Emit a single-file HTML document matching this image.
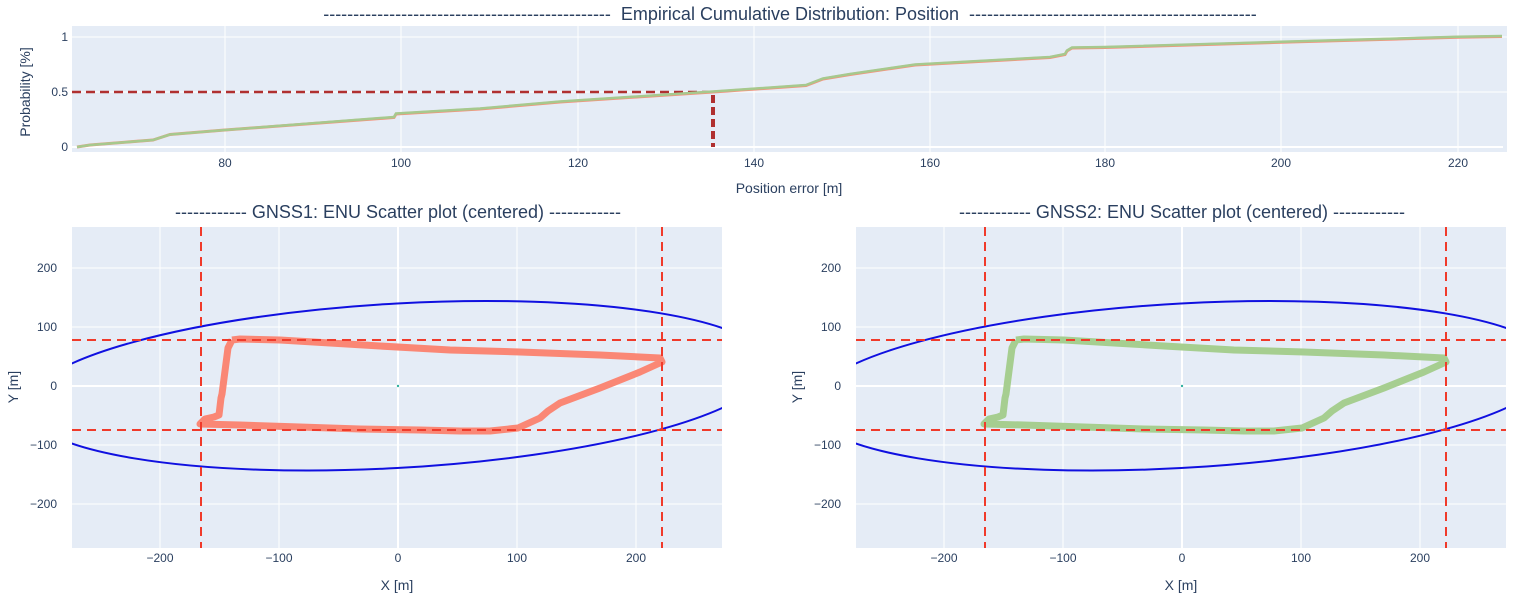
<!DOCTYPE html>
<html><head><meta charset="utf-8"><style>
body{margin:0;background:#fff;}
svg{display:block;font-family:"Liberation Sans",sans-serif;}
.t{fill:#2a3f5f;font-size:12px;}
.ti{fill:#2a3f5f;font-size:18px;}
.ax{fill:#2a3f5f;font-size:14px;}
</style></head><body>
<svg width="1517" height="602" viewBox="0 0 1517 602">
<defs>
<clipPath id="c1"><rect x="72" y="227" width="650" height="321"/></clipPath>
<clipPath id="c0"><rect x="72" y="26" width="1435" height="126"/></clipPath>
</defs>
<!-- top chart -->
<rect x="72" y="26" width="1435" height="126" fill="#e5ecf6"/>
<g stroke="#fff" stroke-width="1">
<line x1="225" y1="26" x2="225" y2="152"/><line x1="401" y1="26" x2="401" y2="152"/>
<line x1="578" y1="26" x2="578" y2="152"/><line x1="754" y1="26" x2="754" y2="152"/>
<line x1="930" y1="26" x2="930" y2="152"/><line x1="1105" y1="26" x2="1105" y2="152"/>
<line x1="1281" y1="26" x2="1281" y2="152"/><line x1="1458" y1="26" x2="1458" y2="152"/>
<line x1="72" y1="37" x2="1507" y2="37"/><line x1="72" y1="92" x2="1507" y2="92"/>
</g>
<line x1="72" y1="147" x2="1503" y2="147" stroke="#fff" stroke-width="2"/>
<g clip-path="url(#c0)">
<line x1="72" y1="92" x2="713" y2="92" stroke="#b03030" stroke-width="2.5" stroke-dasharray="9,5"/>
<line x1="713" y1="95" x2="713" y2="147" stroke="#b03030" stroke-width="4" stroke-dasharray="8,4"/>
<polyline fill="none" stroke="#f4937c" stroke-width="3" points="77,147 90,145 153,140 170,134.5 225,130 394,117.5 396,114 400,113.7 480,109 560,102 713,92 806,85.5 823,79 850,74.5 915,65 1050,57.5 1065,54.5 1067,51 1072,48 1105,47.5 1281,42.3 1458,37.3 1502,36.5"/>
<polyline fill="none" stroke="#a6c98e" stroke-width="2.5" points="77,147 90,145 153,140 170,134.5 225,130 394,117 396,113.5 400,113.2 480,108.5 560,101.5 713,91.5 806,85 823,78.5 850,74 915,64.5 1050,57 1065,54 1067,50.5 1072,47.5 1105,47 1281,41.8 1458,36.8 1502,36"/>
</g>
<g class="t" text-anchor="end"><text x="68" y="41">1</text><text x="68" y="96">0.5</text><text x="68" y="151">0</text></g>
<g class="t" text-anchor="middle"><text x="225" y="167">80</text><text x="401" y="167">100</text><text x="578" y="167">120</text><text x="754" y="167">140</text><text x="930" y="167">160</text><text x="1105" y="167">180</text><text x="1281" y="167">200</text><text x="1458" y="167">220</text></g>
<text class="ax" x="789" y="193" text-anchor="middle">Position error [m]</text>
<text class="ax" x="30" y="92" text-anchor="middle" transform="rotate(-90 30 92)">Probability [%]</text>
<text class="ti" x="790" y="20" text-anchor="middle" xml:space="preserve">------------------------------------------------  Empirical Cumulative Distribution: Position  ------------------------------------------------</text>

<!-- scatter plots -->
<g id="p1">
<rect x="72" y="227" width="650" height="321" fill="#e5ecf6"/>
<g stroke="#fff" stroke-width="1">
<line x1="160" y1="227" x2="160" y2="548"/><line x1="279" y1="227" x2="279" y2="548"/>
<line x1="517" y1="227" x2="517" y2="548"/><line x1="636" y1="227" x2="636" y2="548"/>
<line x1="72" y1="268" x2="722" y2="268"/><line x1="72" y1="327" x2="722" y2="327"/>
<line x1="72" y1="445" x2="722" y2="445"/><line x1="72" y1="504" x2="722" y2="504"/>
</g>
<line x1="398" y1="227" x2="398" y2="548" stroke="#fff" stroke-width="2"/>
<line x1="72" y1="386" x2="722" y2="386" stroke="#fff" stroke-width="2"/>
<g clip-path="url(#c1)">
<ellipse cx="0" cy="0" rx="372" ry="82.3" fill="none" stroke="#1010e0" stroke-width="2" transform="translate(397,385.75) skewY(-3.125)"/>
<polyline fill="none" stroke="#fa8775" stroke-width="7" stroke-linejoin="round" points="232,340 240,339 280,340 330,343 380,346 450,350 520,352 600,355 660,358 662,362 640,372 600,388 560,403 548,411 540,418 518,428 490,431 460,431 420,430 360,429 300,427 240,425 200,424 205,419 214,417 219,415 221,398 222,394 228,348 232,340"/>
<line x1="201" y1="227" x2="201" y2="548" stroke="#f03a2a" stroke-width="2" stroke-dasharray="9,6"/>
<line x1="662" y1="227" x2="662" y2="548" stroke="#f03a2a" stroke-width="2" stroke-dasharray="9,6"/>
<line x1="72" y1="340" x2="722" y2="340" stroke="#f03a2a" stroke-width="2" stroke-dasharray="9,6"/>
<line x1="72" y1="430" x2="722" y2="430" stroke="#f03a2a" stroke-width="2" stroke-dasharray="9,6"/>
<circle cx="398" cy="386" r="1.2" fill="#30b0a0"/>
</g>
<g class="t" text-anchor="end"><text x="57" y="272">200</text><text x="57" y="331">100</text><text x="57" y="390">0</text><text x="57" y="449">−100</text><text x="57" y="508">−200</text></g>
<g class="t" text-anchor="middle"><text x="160" y="562">−200</text><text x="279" y="562">−100</text><text x="398" y="562">0</text><text x="517" y="562">100</text><text x="636" y="562">200</text></g>
<text class="ax" x="397" y="590" text-anchor="middle">X [m]</text>
<text class="ax" x="18" y="387" text-anchor="middle" transform="rotate(-90 18 387)">Y [m]</text>
<text class="ti" x="398" y="218" text-anchor="middle">------------ GNSS1: ENU Scatter plot (centered) ------------</text>
</g>

<g transform="translate(784,0)">
<rect x="72" y="227" width="650" height="321" fill="#e5ecf6"/>
<g stroke="#fff" stroke-width="1">
<line x1="160" y1="227" x2="160" y2="548"/><line x1="279" y1="227" x2="279" y2="548"/>
<line x1="517" y1="227" x2="517" y2="548"/><line x1="636" y1="227" x2="636" y2="548"/>
<line x1="72" y1="268" x2="722" y2="268"/><line x1="72" y1="327" x2="722" y2="327"/>
<line x1="72" y1="445" x2="722" y2="445"/><line x1="72" y1="504" x2="722" y2="504"/>
</g>
<line x1="398" y1="227" x2="398" y2="548" stroke="#fff" stroke-width="2"/>
<line x1="72" y1="386" x2="722" y2="386" stroke="#fff" stroke-width="2"/>
<g clip-path="url(#c1)">
<ellipse cx="0" cy="0" rx="372" ry="82.3" fill="none" stroke="#1010e0" stroke-width="2" transform="translate(397,385.75) skewY(-3.125)"/>
<polyline fill="none" stroke="#a6ce90" stroke-width="7" stroke-linejoin="round" points="232,340 240,339 280,340 330,343 380,346 450,350 520,352 600,355 660,358 662,362 640,372 600,388 560,403 548,411 540,418 518,428 490,431 460,431 420,430 360,429 300,427 240,425 200,424 205,419 214,417 219,415 221,398 222,394 228,348 232,340"/>
<line x1="201" y1="227" x2="201" y2="548" stroke="#f03a2a" stroke-width="2" stroke-dasharray="9,6"/>
<line x1="662" y1="227" x2="662" y2="548" stroke="#f03a2a" stroke-width="2" stroke-dasharray="9,6"/>
<line x1="72" y1="340" x2="722" y2="340" stroke="#f03a2a" stroke-width="2" stroke-dasharray="9,6"/>
<line x1="72" y1="430" x2="722" y2="430" stroke="#f03a2a" stroke-width="2" stroke-dasharray="9,6"/>
<circle cx="398" cy="386" r="1.2" fill="#30b0a0"/>
</g>
<g class="t" text-anchor="end"><text x="57" y="272">200</text><text x="57" y="331">100</text><text x="57" y="390">0</text><text x="57" y="449">−100</text><text x="57" y="508">−200</text></g>
<g class="t" text-anchor="middle"><text x="160" y="562">−200</text><text x="279" y="562">−100</text><text x="398" y="562">0</text><text x="517" y="562">100</text><text x="636" y="562">200</text></g>
<text class="ax" x="397" y="590" text-anchor="middle">X [m]</text>
<text class="ax" x="18" y="387" text-anchor="middle" transform="rotate(-90 18 387)">Y [m]</text>
<text class="ti" x="398" y="218" text-anchor="middle">------------ GNSS2: ENU Scatter plot (centered) ------------</text>
</g>
</svg>
</body></html>
